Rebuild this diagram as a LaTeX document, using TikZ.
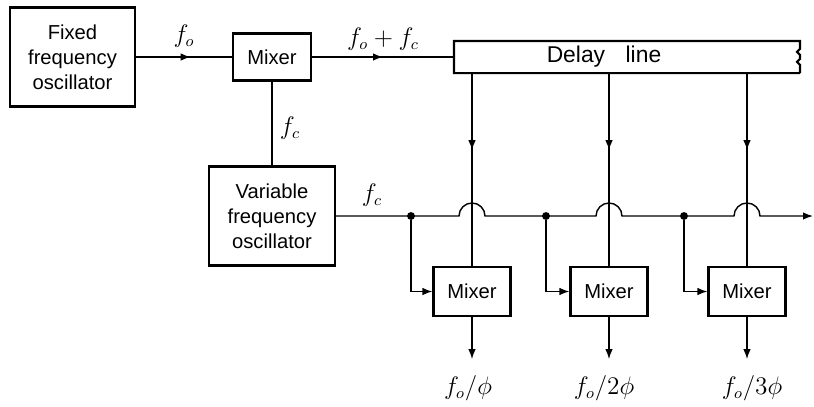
\documentclass[tikz,border=0pt]{standalone}
\usepackage{fontspec}
\setmainfont{Liberation Sans}
\usepackage{amsmath}
\usetikzlibrary{arrows.meta, decorations.markings}

\begin{document}
\begin{tikzpicture}[
    x=0.02cm, y=-0.02cm,
    bnode/.style={draw, line width=1.2pt, align=center, inner sep=0pt, font=\fontsize{11.5}{14.2}\selectfont},
    wire/.style={line width=0.8pt},
    tip/.style={-{Latex[length=2mm, width=1.5mm]}},
    midarrow/.style={postaction={decorate}, decoration={markings, mark=at position #1 with {\arrow{Latex[length=2mm, width=1.5mm]}}}},
    jdot/.style={circle, fill, inner sep=0pt, minimum size=4.5pt},
    flabel/.style={font=\fontsize{13.5}{16}\selectfont}
]
\useasboundingbox (0,0) rectangle (814,406);

% boxes
\node[bnode, minimum width=2.5cm, minimum height=1.98cm] (fixed) at (72.5,57) {Fixed\\frequency\\oscillator};
\node[bnode, minimum width=1.56cm, minimum height=0.94cm] (mix0) at (272,57) {Mixer};
\node[bnode, draw=none, minimum width=6.88cm, minimum height=0.6cm] (delay) at (627,57) {};
\node[font=\fontsize{13}{15}\selectfont] (dltext) at (604,57) {Delay\hspace{0.9em}line};
\node[bnode, minimum width=2.52cm, minimum height=1.98cm] (vfo) at (272,216) {Variable\\frequency\\oscillator};
\node[bnode, minimum width=1.54cm, minimum height=0.98cm] (mix1) at (472,291.5) {Mixer};
\node[bnode, minimum width=1.54cm, minimum height=0.98cm] (mix2) at (609,291.5) {Mixer};
\node[bnode, minimum width=1.54cm, minimum height=0.98cm] (mix3) at (747,291.5) {Mixer};

% delay line outline with broken end
\draw[line width=1.2pt] (delay.south east) -- (delay.south west) -- (delay.north west) -- (delay.north east)
    -- ++(0,8) -- ++(-3,3) -- ++(3,3) -- ++(0,4) -- ++(-3,3) -- ++(3,3) -- (delay.south east);

% labels
\node[flabel] (lfo) at (184,36) {$f_o$};
\node[flabel] (lsum) at (383,39) {$f_o + f_c$};
\node[flabel] (lfc1) at (290,128) {$f_c$};
\node[flabel] (lfc2) at (372,195) {$f_c$};
\node[flabel] (out1) at (468,388) {$f_o/\phi$};
\node[flabel] (out2) at (604,388) {$f_o/2\phi$};
\node[flabel] (out3) at (752,388) {$f_o/3\phi$};

% junctions and hops
\node[jdot] (d1) at (411,216) {};
\node[jdot] (d2) at (546,216) {};
\node[jdot] (d3) at (684,216) {};
\coordinate (h1) at (459,216);
\coordinate (h2) at (596,216);
\coordinate (h3) at (734,216);
\coordinate (lend) at (813,216);

% connectors
\draw[wire, midarrow=0.57] (fixed.east) -- (mix0.west);
\draw[wire, midarrow=0.5] (mix0.east) -- (delay.west);
\draw[wire] (mix0.south) -- (vfo.north);
\draw[wire, tip] (vfo.east) -- (h1) arc[start angle=180, end angle=0, radius=0.26cm]
    -- (h2) arc[start angle=180, end angle=0, radius=0.26cm]
    -- (h3) arc[start angle=180, end angle=0, radius=0.26cm] -- (lend);

\draw[wire, midarrow=0.4] (delay.south -| mix1.north) -- (mix1.north);
\draw[wire, midarrow=0.4] (delay.south -| mix2.north) -- (mix2.north);
\draw[wire, midarrow=0.4] (delay.south -| mix3.north) -- (mix3.north);

\draw[wire, tip] (d1) |- (mix1.west);
\draw[wire, tip] (d2) |- (mix2.west);
\draw[wire, tip] (d3) |- (mix3.west);

\draw[wire, tip, shorten >=0.2cm] (mix1.south) -- (mix1.south |- out1.north);
\draw[wire, tip, shorten >=0.2cm] (mix2.south) -- (mix2.south |- out2.north);
\draw[wire, tip, shorten >=0.2cm] (mix3.south) -- (mix3.south |- out3.north);
\end{tikzpicture}
\end{document}
